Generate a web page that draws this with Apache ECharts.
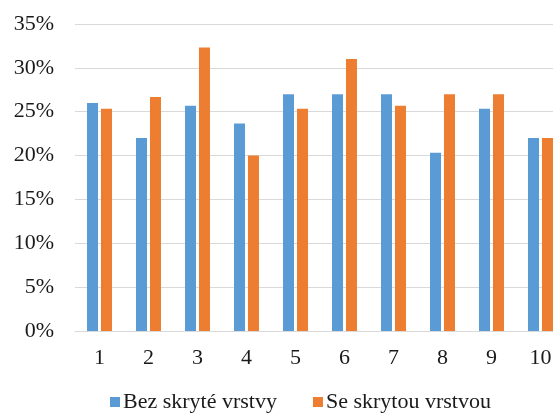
<!DOCTYPE html>
<html>
<head>
<meta charset="utf-8">
<script src="https://cdn.jsdelivr.net/npm/echarts@6/dist/echarts.min.js"></script>
<style>
  html, body { margin: 0; padding: 0; background: #fff; }
  #chart { width: 553px; height: 413px; }
</style>
</head>
<body>
<div id="chart"></div>
<script>
// Run numbers 1..10 and the share (%) per run for both network variants
const categories = ['1', '2', '3', '4', '5', '6', '7', '8', '9', '10'];
const withoutHidden = [26, 22, 25.67, 23.67, 27, 27, 27, 20.33, 25.33, 22];
const withHidden = [25.33, 26.67, 32.33, 20, 25.33, 31, 25.67, 27, 27, 22];
const seriesNames = ['Bez skryté vrstvy', 'Se skrytou vrstvou'];
const yTicks = { min: 0, max: 35, step: 5 };

const FONT = '"Liberation Serif", "Times New Roman", serif';
const TEXT = '#1a1a1a';
const GRID = '#d9d9d9';

const chart = echarts.init(document.getElementById('chart'), null, { renderer: 'canvas' });
chart.setOption({
  animation: false,
  backgroundColor: '#fff',
  grid: {
    left: 75, top: 24, width: 490, height: 307,
    containLabel: false,
    outerBoundsMode: 'none'
  },
  legend: {
    left: 110,
    top: 391,
    padding: 0,
    itemWidth: 10,
    itemHeight: 10,
    itemGap: 36,
    icon: 'rect',
    textStyle: { fontFamily: FONT, fontSize: 22, color: TEXT, padding: [0, 0, 0, -2] },
    data: seriesNames
  },
  xAxis: {
    type: 'category',
    data: categories,
    axisLine: { lineStyle: { color: GRID, width: 1 } },
    axisTick: { show: false },
    axisLabel: { fontFamily: FONT, fontSize: 22, color: TEXT, margin: 16 }
  },
  yAxis: {
    type: 'value',
    min: yTicks.min,
    max: yTicks.max,
    interval: yTicks.step,
    axisLine: { show: false },
    axisTick: { show: false },
    splitLine: { lineStyle: { color: GRID, width: 1 } },
    axisLabel: { fontFamily: FONT, fontSize: 22, color: TEXT, margin: 21, formatter: '{value}%' }
  },
  series: [
    {
      name: seriesNames[0],
      type: 'bar',
      data: withoutHidden,
      barWidth: 11,
      barGap: '27%',
      itemStyle: { color: '#5b9bd5' }
    },
    {
      name: seriesNames[1],
      type: 'bar',
      data: withHidden,
      barWidth: 11,
      barGap: '27%',
      itemStyle: { color: '#ed7d31' }
    }
  ]
});
</script>
</body>
</html>
